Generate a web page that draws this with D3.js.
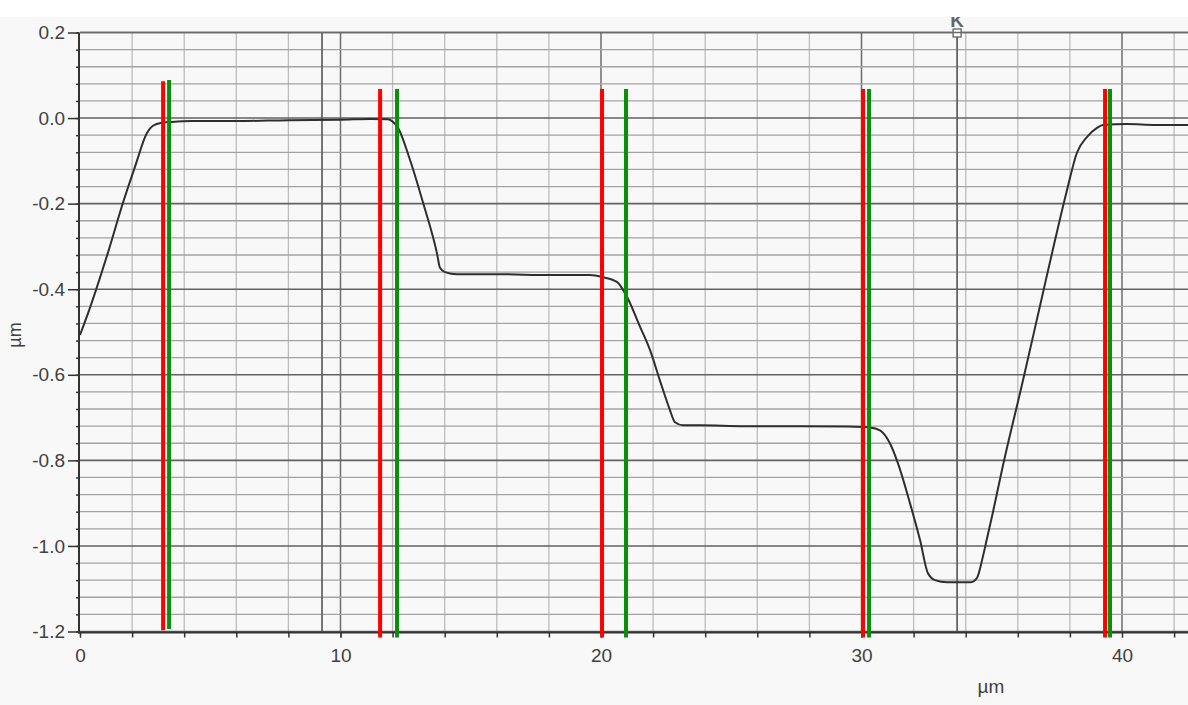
<!DOCTYPE html>
<html>
<head>
<meta charset="utf-8">
<script src="https://cdn.jsdelivr.net/npm/d3@7"></script>
<style>
  html, body { margin: 0; padding: 0; background: #ffffff; }
  svg { display: block; }
  text { font-family: "Liberation Sans", Arial, sans-serif; }
</style>
</head>
<body>
<svg id="chart" width="1188" height="705"></svg>
<script>
// ---- data ----
const profileX = [0, 0.31, 1.07, 1.65, 2.11, 2.57, 2.80, 3.15, 3.53, 4.30, 6.0, 8.0, 10.0, 11.13, 11.82, 11.98,
  12.21, 12.67, 13.17, 13.70, 13.82, 14.01, 14.47, 14.97, 16.12, 18.0, 19.08, 19.58, 20.08, 20.61, 21.00,
  21.50, 21.88, 22.26, 22.65, 22.84, 23.15, 23.80, 25.5, 27.64, 29.5, 30.33, 30.71, 31.09, 31.40, 31.86,
  32.25, 32.55, 32.82, 33.28, 34.17, 34.43, 34.66, 34.82, 35.05, 35.43, 36.20, 36.93, 37.43, 37.89, 38.27,
  38.66, 39.04, 39.27, 40.19, 41.3, 42.55];
const profileY = [-0.507, -0.456, -0.315, -0.198, -0.114, -0.035, -0.018, -0.011, -0.009, -0.007, -0.007, -0.005, -0.004, -0.002, -0.003, -0.007,
  -0.023, -0.098, -0.198, -0.315, -0.350, -0.360, -0.365, -0.365, -0.365, -0.367, -0.367, -0.367, -0.372, -0.383, -0.418,
  -0.488, -0.542, -0.613, -0.683, -0.711, -0.718, -0.718, -0.720, -0.720, -0.721, -0.723, -0.730, -0.760, -0.807, -0.900,
  -0.987, -1.064, -1.080, -1.085, -1.085, -1.075, -1.025, -0.982, -0.920, -0.812, -0.613, -0.418, -0.285, -0.168, -0.081,
  -0.044, -0.023, -0.016, -0.014, -0.016, -0.016];

const redMarkerX   = [3.19, 11.52, 20.04, 30.06, 39.35];
const greenMarkerX = [3.42, 12.17, 20.96, 30.29, 39.54];
const markerTop    = [0.086, 0.068, 0.068, 0.068, 0.068];
const markerBottom = [-1.197, -1.214, -1.214, -1.214, -1.214];
const cursorX = [9.29, 33.67];
const cursorLabel = "K";

const xTickValues = [0, 10, 20, 30, 40];
const xTickLabels = ["0", "10", "20", "30", "40"];
const yTickValues = [0.2, 0.0, -0.2, -0.4, -0.6, -0.8, -1.0, -1.2];
const yTickLabels = ["0.2", "0.0", "-0.2", "-0.4", "-0.6", "-0.8", "-1.0", "-1.2"];
const xUnit = "µm", yUnit = "µm";

// ---- layout ----
const W = 1188, H = 705;
const x = d3.scaleLinear().domain([0, 40]).range([80, 1122]);
const y = d3.scaleLinear().domain([-1.2, 0.2]).range([631.5, 32.5]);

const svg = d3.select("#chart");
svg.append("rect").attr("x", 0).attr("y", 17).attr("width", W).attr("height", H - 17).attr("fill", "#f8f8f8");

const defs = svg.append("defs");
defs.append("clipPath").attr("id", "clipTop").append("rect")
  .attr("x", 0).attr("y", 17).attr("width", W).attr("height", H);

// grid: vertical every 2 µm
const gx = d3.range(2, 42.01, 2);
svg.append("g").selectAll("line").data(gx).join("line")
  .attr("x1", d => x(d)).attr("x2", d => x(d))
  .attr("y1", y(0.2)).attr("y2", y(-1.2))
  .attr("stroke", d => (Math.round(d) % 10 === 0) ? "#6e6e6e" : "#bdbdbd")
  .attr("stroke-width", d => (Math.round(d) % 10 === 0) ? 1.5 : 1.3);

// grid: horizontal every 0.04
const gy = d3.range(0, 36).map(i => -1.2 + i * 0.04);
svg.append("g").selectAll("line").data(gy).join("line")
  .attr("x1", x(0)).attr("x2", W)
  .attr("y1", d => y(d)).attr("y2", d => y(d))
  .attr("stroke", (d, i) => (i % 5 === 0) ? "#626262" : "#a3a3a3")
  .attr("stroke-width", (d, i) => (i % 5 === 0) ? 1.6 : 1.3);

// cursor lines
svg.append("g").selectAll("line").data(cursorX).join("line")
  .attr("x1", d => x(d)).attr("x2", d => x(d))
  .attr("y1", y(0.2)).attr("y2", y(-1.2))
  .attr("stroke", "#5e5e5e").attr("stroke-width", 1.7);
// cursor handle on the second cursor
const cx2 = x(cursorX[1]);
svg.append("text").attr("x", cx2).attr("y", 27).attr("text-anchor", "middle")
  .attr("font-size", 19).attr("font-weight", "bold").attr("fill", "#666")
  .attr("clip-path", "url(#clipTop)").text(cursorLabel);
svg.append("rect").attr("x", cx2 - 4).attr("y", 29).attr("width", 8).attr("height", 8)
  .attr("fill", "#ffffff").attr("stroke", "#555").attr("stroke-width", 1.2);

// top border
svg.append("line").attr("x1", x(0)).attr("x2", W).attr("y1", y(0.2)).attr("y2", y(0.2))
  .attr("stroke", "#6a6a6a").attr("stroke-width", 1.6);

// axes
const tickFont = g => g.selectAll(".tick text").attr("font-size", 19).attr("fill", "#404040")
  .attr("font-family", "Liberation Sans, Arial, sans-serif");
const yAxisG = svg.append("g").attr("transform", `translate(${x(0) - 1},0)`);
yAxisG.call(d3.axisLeft(y).tickValues(gy).tickSize(3).tickFormat(""))
  .call(g => g.select(".domain").remove())
  .call(g => g.selectAll(".tick line").attr("stroke", "#333").attr("stroke-width", 1.5));
yAxisG.append("g").call(d3.axisLeft(y).tickValues(yTickValues).tickSize(11).tickPadding(3)
    .tickFormat((d, i) => yTickLabels[i]))
  .call(g => g.select(".domain").remove())
  .call(g => g.selectAll(".tick line").attr("stroke", "#333").attr("stroke-width", 1.5))
  .call(tickFont);
svg.append("line").attr("x1", x(0) - 1).attr("x2", x(0) - 1).attr("y1", y(0.2)).attr("y2", y(-1.2) + 2)
  .attr("stroke", "#333").attr("stroke-width", 2);

const xAxisG = svg.append("g").attr("transform", `translate(0,${y(-1.2) + 1})`);
xAxisG.call(d3.axisBottom(x).tickValues(d3.range(0, 42.01, 2)).tickSize(5).tickFormat(""))
  .call(g => g.select(".domain").remove())
  .call(g => g.selectAll(".tick line").attr("stroke", "#333").attr("stroke-width", 1.5));
xAxisG.append("g").call(d3.axisBottom(x).tickValues(xTickValues).tickSize(5).tickPadding(11)
    .tickFormat((d, i) => xTickLabels[i]))
  .call(g => g.select(".domain").remove())
  .call(g => g.selectAll(".tick line").attr("stroke", "#333"))
  .call(tickFont);
svg.append("line").attr("x1", x(0) - 2).attr("x2", W).attr("y1", y(-1.2) + 1).attr("y2", y(-1.2) + 1)
  .attr("stroke", "#333").attr("stroke-width", 2.2);

// axis titles
svg.append("text").attr("transform", "translate(21,335) rotate(-90)")
  .attr("text-anchor", "middle").attr("font-size", 18).attr("fill", "#404040").text(yUnit);
svg.append("text").attr("x", 991).attr("y", 693)
  .attr("text-anchor", "middle").attr("font-size", 19).attr("fill", "#404040").text(xUnit);

// profile line
const pts = profileX.map((d, i) => [d, profileY[i]]);
svg.append("path").datum(pts)
  .attr("fill", "none").attr("stroke", "#2e2e2e").attr("stroke-width", 2)
  .attr("stroke-linejoin", "round")
  .attr("d", d3.line().x(d => x(d[0])).y(d => y(d[1])).curve(d3.curveMonotoneX));

// markers
const markers = [];
redMarkerX.forEach((v, i) => markers.push({ x: v, top: markerTop[i], bottom: markerBottom[i], c: "#ff0000" }));
greenMarkerX.forEach((v, i) => markers.push({ x: v, top: markerTop[i] + (i === 0 ? 0.003 : 0), bottom: markerBottom[i] + (i === 0 ? 0.003 : 0), c: "#0b8f0b" }));
svg.append("g").selectAll("line").data(markers).join("line")
  .attr("x1", d => x(d.x)).attr("x2", d => x(d.x))
  .attr("y1", d => y(d.top)).attr("y2", d => y(d.bottom))
  .attr("stroke", d => d.c).attr("stroke-width", 4);
</script>
</body>
</html>
